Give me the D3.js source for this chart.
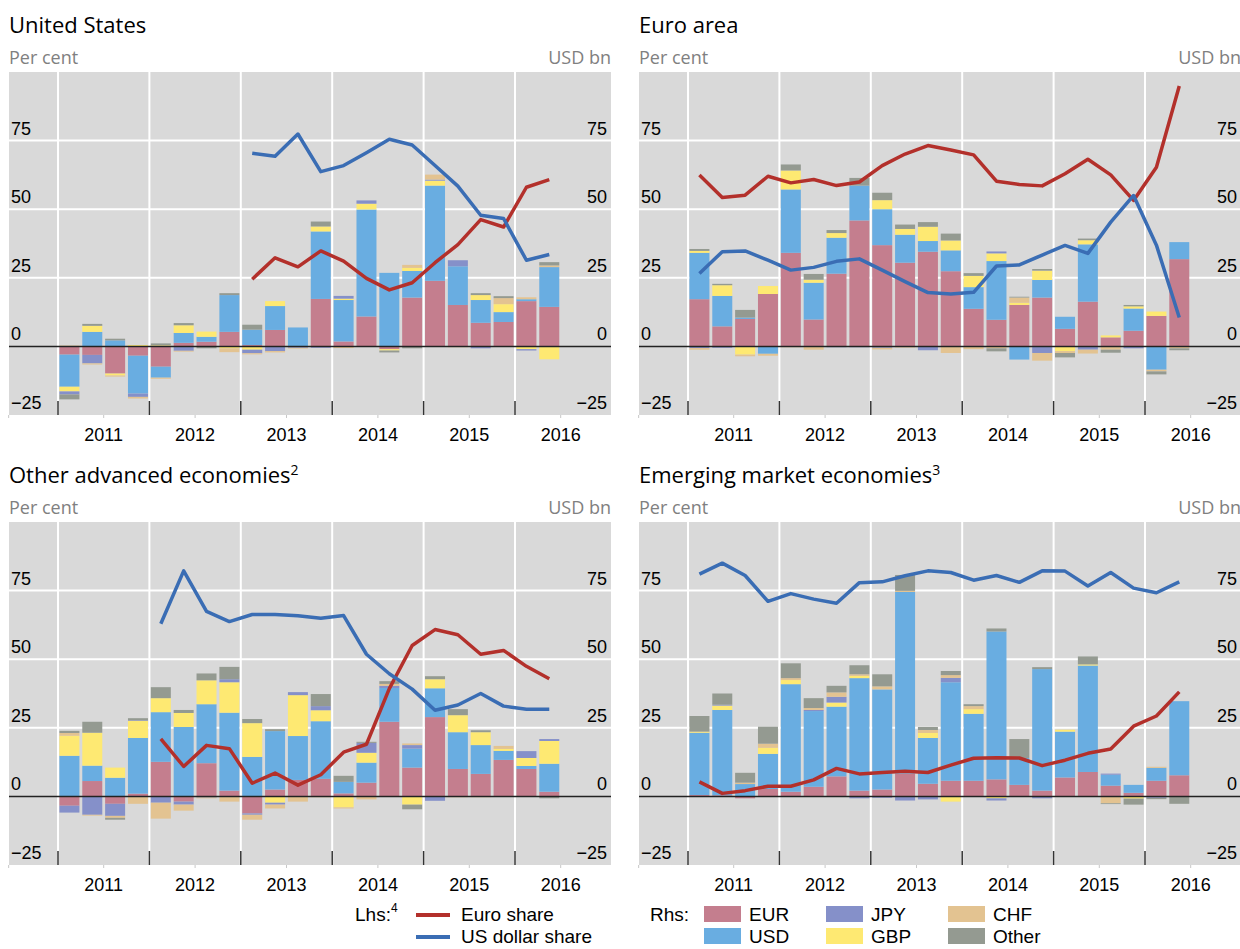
<!DOCTYPE html>
<html>
<head>
<meta charset="utf-8">
<script src="https://cdn.jsdelivr.net/npm/d3@7"></script>
<style>
  body { margin: 0; background: #fff; }
  svg { display: block; }
</style>
</head>
<body>
<svg id="chart" width="1240" height="949"></svg>
<script>
// quarterly, 2011 Q1 .. 2016 Q2
const quarters = ["2011Q1","2011Q2","2011Q3","2011Q4","2012Q1","2012Q2","2012Q3","2012Q4",
  "2013Q1","2013Q2","2013Q3","2013Q4","2014Q1","2014Q2","2014Q3","2014Q4",
  "2015Q1","2015Q2","2015Q3","2015Q4","2016Q1","2016Q2"];
const currencies = ["EUR", "USD", "GBP", "JPY", "CHF", "Other"];
const yearTicks = [2011, 2012, 2013, 2014, 2015, 2016];
const valueTicks = [-25, 0, 25, 50, 75];

// United States
const usEUR   = [-3.0,-3.1,-9.9,-3.4,-7.4,1.3,1.7,5.3,0.5,6.0,0,17.3,1.8,10.9,-1.0,17.8,23.9,15.1,8.6,8.9,16.5,14.4];
const usUSD   = [-11.7,5.3,2.2,-13.8,-4.0,3.6,1.8,13.4,5.6,8.7,6.9,24.6,15.1,39.0,26.8,9.7,34.7,14.1,8.3,3.6,0.7,14.5];
const usGBP   = [-1.7,2.2,-0.7,0.5,0.4,2.8,1.9,-0.7,-1.2,1.8,0,1.8,0.5,2.1,-0.5,1.1,1.8,0,1.8,2.9,-1.0,-4.7];
const usJPY   = [-1.1,-3.1,0,-1.2,0,-1.6,0,0,-1.3,-1.7,-0.5,-0.5,1.0,1.2,0,0,0.4,2.2,-0.7,0,-0.5,0];
const usCHF   = [0.3,-0.4,-0.4,-0.6,-0.4,-0.3,0,-1.4,-0.4,-0.5,-0.3,0,-0.6,0,0,1.1,1.8,-0.3,0,2.2,0.7,0.6];
const usOther = [-1.8,0.7,0.6,0,0.7,0.8,-0.7,0.7,1.8,0,0,1.8,0,0,-0.7,-0.7,0,0,0.7,0.7,0,1.2];
const usEuroShare   = [null,null,null,null,null,null,null,null,24.5,32.3,29.0,34.8,31.1,24.8,20.6,23.2,30.5,37.1,46.2,43.5,58.0,60.8];
const usDollarShare = [null,null,null,null,null,null,null,null,70.4,69.3,77.4,63.7,65.9,70.6,75.5,73.4,65.9,58.4,47.8,46.6,31.4,33.5];

// Euro area
const eaEUR   = [17.2,7.3,10.0,19.1,34.1,9.8,26.5,45.9,36.9,30.5,34.5,27.4,13.7,9.7,15.1,17.8,6.4,16.3,3.3,5.7,11.1,31.8];
const eaUSD   = [16.9,11.1,0.5,-2.7,23.1,13.4,13.1,12.7,13.1,10.2,3.9,7.6,7.9,21.4,-4.8,6.4,4.4,20.9,0,8.1,-8.5,6.2];
const eaGBP   = [0.7,3.9,-3.0,2.9,6.9,1.1,1.7,0,3.3,2.1,5.2,3.6,4.1,2.8,0.8,3.4,-1.7,1.5,0.7,0.8,1.6,0];
const eaJPY   = [-0.6,-0.5,0,0,0,0,-0.3,-0.3,-0.5,0,-1.4,0,0,0.7,0,-2.4,0,-1.2,0,-0.7,0,0];
const eaCHF   = [-0.6,0,-0.6,-0.7,-0.3,-1.2,0,0,-0.6,-0.4,0,-2.4,-1.0,-0.7,1.9,-2.8,-0.7,-1.4,-1.2,0,-0.6,-0.7];
const eaOther = [0.7,0.5,2.8,0,2.2,2.1,1.1,2.8,2.7,1.6,1.7,2.5,1.0,-1.1,0.3,0.6,-1.6,0.6,-1.1,0.5,-1.1,-0.7];
const eaEuroShare   = [62.5,54.3,55.1,62.0,59.6,60.8,58.6,59.9,65.9,70.1,73.2,71.6,69.8,60.2,59.0,58.5,62.9,68.2,62.5,53.2,65.3,94.9];
const eaDollarShare = [26.6,34.5,34.8,31.4,27.8,28.8,31.0,31.9,27.8,23.6,19.6,19.1,19.7,29.3,29.7,33.3,36.8,33.9,45.3,55.0,36.9,10.5];

// Other advanced economies
const oaEUR   = [-3.4,5.6,-2.7,1.0,12.6,-1.9,12.1,2.1,-6.2,2.5,6.0,6.4,1.1,5.0,27.2,10.5,28.9,10.0,8.2,13.3,10.0,1.7];
const oaUSD   = [14.8,5.6,6.8,20.3,18.1,25.3,21.5,28.4,14.4,21.3,16.0,21.0,4.2,7.3,12.3,6.9,10.5,13.4,10.5,3.3,1.1,10.2];
const oaGBP   = [7.3,12.0,3.7,6.2,5.1,5.1,8.7,11.1,12.3,-2.3,14.9,4.0,-4.0,3.6,0,-3.0,3.3,6.2,4.7,0.7,2.9,8.3];
const oaJPY   = [-2.5,-6.7,-4.4,0.2,-2.3,-1.1,-0.4,1.1,-0.5,-0.7,1.1,1.5,0,3.6,0.8,1.3,-1.6,0,0,0,2.5,0.7];
const oaCHF   = [1.0,-0.3,-0.7,-2.7,-5.8,-2.2,-0.3,-1.9,-1.8,-1.4,-1.9,-0.3,-0.4,-1.1,0.7,0.6,0,-0.3,-0.3,1.1,0,0];
const oaOther = [0.8,4.0,-0.7,0.8,4.0,1.1,2.5,4.5,1.5,0.7,0,4.4,2.2,0.4,1.0,-1.7,1.1,2.2,0.7,0,0,-0.7];
const oaEuroShare   = [null,null,null,null,21.0,10.9,18.6,17.4,4.8,8.5,4.1,7.9,16.1,19.0,39.3,55.0,60.8,58.9,51.8,53.2,47.4,42.9];
const oaDollarShare = [null,null,null,null,62.9,82.2,67.4,63.7,66.3,66.3,65.8,64.9,65.9,51.8,44.7,39.1,31.4,33.3,37.5,32.9,31.8,31.8];

// Emerging market economies
const emEUR   = [0.5,0.4,-0.7,2.7,1.7,3.5,7.3,2.1,2.5,8.3,4.6,5.7,5.7,6.2,4.2,2.1,6.9,8.9,3.9,1.3,5.7,7.7];
const emUSD   = [22.7,31.1,4.5,12.8,39.2,27.6,25.4,41.0,36.5,66.2,16.7,35.9,24.4,53.9,9.8,44.3,16.7,38.8,4.0,2.9,4.7,27.0];
const emGBP   = [0.4,1.6,0,2.2,1.5,0,1.5,0.8,0,0,1.8,-1.9,1.7,-0.7,0,0,0.7,0.4,0,-0.8,0,0];
const emJPY   = [0,0.3,0,0,0,0.4,2.1,-0.7,-0.5,-1.5,-1.1,1.6,0,-0.8,0,-0.7,0,0,0.4,0,-0.5,0];
const emCHF   = [0,0,0.5,1.5,0.7,0.7,1.6,0.6,1.1,0.4,1.1,1.0,1.1,0,0,0,0,0,-2.5,0,0.4,0];
const emOther = [5.7,4.1,3.6,6.2,5.4,3.6,2.4,3.3,4.4,5.8,1.1,1.5,0.7,1.1,6.9,0.7,0,2.9,-0.3,-2.2,-0.5,-2.7];
const emEuroShare   = [5.3,1.1,2.1,3.7,3.7,6.0,10.2,8.2,8.7,9.2,8.7,11.4,13.9,14.1,14.0,11.2,13.2,15.7,17.3,25.6,29.3,38.1];
const emDollarShare = [81.0,85.0,80.5,71.1,73.9,71.9,70.4,77.9,78.2,80.4,82.2,81.6,78.8,80.5,78.0,82.2,82.1,76.7,81.6,75.9,74.2,78.2];

const colors = {
    EUR: "#c47e8e", USD: "#69ade1", GBP: "#fee972",
    JPY: "#8590c9", CHF: "#e3c391", Other: "#949a91"
};
const euroColor = "#b3302b";
const dollarColor = "#3a6db4";

const panels = [
    { title: "United States", sup: "", ox: 0, oy: 0,
      series: [usEUR, usUSD, usGBP, usJPY, usCHF, usOther], euro: usEuroShare, dollar: usDollarShare },
    { title: "Euro area", sup: "", ox: 630, oy: 0,
      series: [eaEUR, eaUSD, eaGBP, eaJPY, eaCHF, eaOther], euro: eaEuroShare, dollar: eaDollarShare },
    { title: "Other advanced economies", sup: "2", ox: 0, oy: 450,
      series: [oaEUR, oaUSD, oaGBP, oaJPY, oaCHF, oaOther], euro: oaEuroShare, dollar: oaDollarShare },
    { title: "Emerging market economies", sup: "3", ox: 630, oy: 450,
      series: [emEUR, emUSD, emGBP, emJPY, emCHF, emOther], euro: emEuroShare, dollar: emDollarShare }
];

const svg = d3.select("#chart");
const titleFont = "'Open Sans', 'Noto Sans', sans-serif";
const axisFont = "'Liberation Sans', Arial, sans-serif";

const plotLeft = 9, plotRight = 611, plotTop = 72, plotBottom = 415;
const x = d3.scaleLinear().domain([2011, 2016]).range([58, 515]);
const y = d3.scaleLinear().domain([-25, 100]).range([plotBottom, plotTop]);
const qx = i => x(2011 + i / 4 + 0.125);
const barW = (x(2011.25) - x(2011)) * 0.875;

function drawPanel(p) {
    const g = svg.append("g").attr("transform", `translate(${p.ox},${p.oy})`);

    const t = g.append("text")
        .attr("x", 9).attr("y", 33)
        .style("font-family", titleFont).style("font-size", "22px").attr("fill", "#000")
        .text(p.title);
    if (p.sup) t.append("tspan").attr("dy", -8).style("font-size", "14px").text(p.sup);

    g.append("text").attr("x", 9).attr("y", 64)
        .style("font-family", titleFont).style("font-size", "18px").attr("fill", "#808080")
        .text("Per cent");
    g.append("text").attr("x", plotRight).attr("y", 64).attr("text-anchor", "end")
        .style("font-family", titleFont).style("font-size", "18px").attr("fill", "#808080")
        .text("USD bn");

    g.append("rect").attr("x", plotLeft).attr("y", plotTop)
        .attr("width", plotRight - plotLeft).attr("height", plotBottom - plotTop).attr("fill", "#d9d9d9");

    // grid
    g.append("g").selectAll("line").data([25, 50, 75]).join("line")
        .attr("x1", plotLeft).attr("x2", plotRight)
        .attr("y1", d => y(d)).attr("y2", d => y(d))
        .attr("stroke", "#fff").attr("stroke-width", 2);
    g.append("g").selectAll("line").data(yearTicks).join("line")
        .attr("x1", d => x(d)).attr("x2", d => x(d))
        .attr("y1", plotTop).attr("y2", plotBottom)
        .attr("stroke", "#fff").attr("stroke-width", 2);

    // stacked bars
    const rows = quarters.map((q, i) => {
        const r = { i };
        currencies.forEach((c, k) => r[c] = p.series[k][i]);
        return r;
    });
    const stacked = d3.stack().keys(currencies).offset(d3.stackOffsetDiverging)(rows);
    g.append("g").selectAll("g").data(stacked).join("g")
        .attr("fill", d => colors[d.key])
        .selectAll("rect").data(d => d).join("rect")
        .attr("x", d => qx(d.data.i) - barW / 2)
        .attr("width", barW)
        .attr("y", d => y(Math.max(d[0], d[1])))
        .attr("height", d => Math.abs(y(d[0]) - y(d[1])));

    g.append("line").attr("x1", plotLeft).attr("x2", plotRight)
        .attr("y1", y(0)).attr("y2", y(0))
        .attr("stroke", "#222").attr("stroke-width", 1.5);

    // lines
    const line = d3.line()
        .defined(d => d != null)
        .x((d, i) => qx(i))
        .y(d => y(d));
    [[p.euro, euroColor], [p.dollar, dollarColor]].forEach(([vals, col]) => {
        g.append("path").datum(vals)
            .attr("fill", "none").attr("stroke", col)
            .attr("stroke-width", 3.5).attr("stroke-linejoin", "round")
            .attr("d", line);
    });

    // value labels, both sides
    const fmt = v => v < 0 ? "\u2212" + Math.abs(v) : String(v);
    g.append("g").selectAll("text").data(valueTicks).join("text")
        .attr("x", 11).attr("y", d => y(d) - 6)
        .style("font-family", axisFont).style("font-size", "18px").attr("fill", "#000")
        .text(fmt);
    g.append("g").selectAll("text").data(valueTicks).join("text")
        .attr("x", plotRight - 4).attr("y", d => y(d) - 6).attr("text-anchor", "end")
        .style("font-family", axisFont).style("font-size", "18px").attr("fill", "#000")
        .text(fmt);

    // year ticks and labels
    g.append("g").selectAll("line").data(yearTicks).join("line")
        .attr("x1", d => x(d)).attr("x2", d => x(d))
        .attr("y1", plotBottom - 14).attr("y2", plotBottom)
        .attr("stroke", "#333").attr("stroke-width", 1.5);
    g.append("g").selectAll("line").data([2010.46].concat(yearTicks.map(d => d + 0.5))).join("line")
        .attr("x1", d => x(d)).attr("x2", d => x(d))
        .attr("y1", plotBottom).attr("y2", plotBottom + 3)
        .attr("stroke", "#c8c8c8").attr("stroke-width", 1);
    g.append("g").selectAll("text").data(yearTicks).join("text")
        .attr("x", d => x(d + 0.5)).attr("y", 441).attr("text-anchor", "middle")
        .style("font-family", axisFont).style("font-size", "18px").attr("fill", "#000")
        .text(d => d);
}

panels.forEach(drawPanel);

// legend (second row kept just inside the bottom edge)
const legend = svg.append("g").style("font-family", axisFont).style("font-size", "19px");
const rowY = [921, 943];
const lhs = legend.append("text").attr("x", 355).attr("y", rowY[0]).text("Lhs:");
lhs.append("tspan").attr("dy", -9).style("font-size", "12px").text("4");
[["Euro share", euroColor, 0], ["US dollar share", dollarColor, 1]].forEach(([name, col, r]) => {
    legend.append("line").attr("x1", 416).attr("x2", 450)
        .attr("y1", rowY[r] - 6).attr("y2", rowY[r] - 6)
        .attr("stroke", col).attr("stroke-width", 4);
    legend.append("text").attr("x", 461).attr("y", rowY[r]).text(name);
});
legend.append("text").attr("x", 650).attr("y", rowY[0]).text("Rhs:");
const legendItems = [["EUR", 0, 0], ["JPY", 1, 0], ["CHF", 2, 0], ["USD", 0, 1], ["GBP", 1, 1], ["Other", 2, 1]];
legendItems.forEach(([key, col, row]) => {
    const lx = 704 + col * 122;
    legend.append("rect").attr("x", lx).attr("y", rowY[row] - 15)
        .attr("width", 37).attr("height", 16).attr("fill", colors[key]);
    legend.append("text").attr("x", lx + 45).attr("y", rowY[row]).text(key);
});
</script>
</body>
</html>
